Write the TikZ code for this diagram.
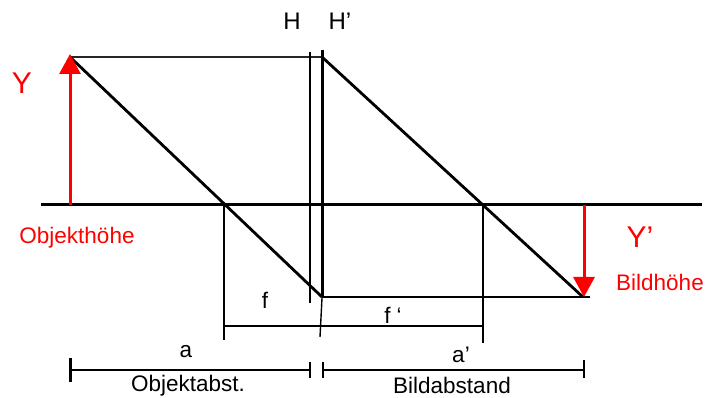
\documentclass[tikz,border=0pt]{standalone}
\usepackage{fontspec}
\setmainfont{Liberation Sans}
\usetikzlibrary{arrows.meta}
\begin{document}
\begin{tikzpicture}[x=1pt,y=-1pt,
  lbl/.style={font=\fontsize{22.5}{26}\selectfont, inner sep=0pt, text=black},
  redlbl/.style={lbl, text=red},
  biglbl/.style={font=\fontsize{30}{34}\selectfont, inner sep=0pt, text=red},
  axisline/.style={line width=3pt, black},
  ray/.style={line width=2.8pt, black},
  thinline/.style={line width=1.4pt, black},
  midline/.style={line width=1.8pt, black!85},
  redarrow/.style={line width=3pt, red, -{Triangle[length=20pt,width=21pt]}},
  tickthick/.style={line width=3pt, black},
]
\useasboundingbox (0,0) rectangle (705,398);
% coordinates
\coordinate (axL) at (41,205);
\coordinate (axR) at (702,205);
\coordinate (objB) at (70,205);
\coordinate (objT) at (70,54);
\coordinate (topL) at (70,57);
\coordinate (topR) at (322,57);
\coordinate (HpT) at (322,50);
\coordinate (HpB) at (322,297);
\coordinate (HT) at (310,52);
\coordinate (HB) at (310,303);
\coordinate (imgE) at (583,297);
\coordinate (botR) at (590,297);
\coordinate (imgB) at (584,205);
\coordinate (imgT) at (584,297);
\coordinate (FT) at (224,205);
\coordinate (FB) at (224,340);
\coordinate (FpT) at (483,205);
\coordinate (FpB) at (483,343);
\coordinate (fL) at (224,326);
\coordinate (fR) at (483,326);
\coordinate (slT) at (322,298);
\coordinate (slB) at (320,337);
\coordinate (dL) at (70,370);
\coordinate (dM1) at (310,370);
\coordinate (dM2) at (323,370);
\coordinate (dR) at (584,370);
\coordinate (tL1) at (70,358);
\coordinate (tL2) at (70,382);
\coordinate (tM1a) at (310,362);
\coordinate (tM1b) at (310,378);
\coordinate (tM2a) at (323,362);
\coordinate (tM2b) at (323,378);
\coordinate (tRa) at (584,360);
\coordinate (tRb) at (584,378);

% lines
\draw[axisline] (axL) -- (axR);
\draw[midline] (topL) -- (topR);
\draw[thinline] (HT) -- (HB);
\draw[line width=3pt] (HpT) -- (HpB);
\draw[ray] (topL) -- (HpB);
\draw[ray] (topR) -- (imgE);
\draw[thinline] (HpB) -- (botR);
\draw[thinline] (FT) -- (FB);
\draw[thinline] (FpT) -- (FpB);
\draw[thinline] (fL) -- (fR);
\draw[thinline] (slT) -- (slB);
\draw[redarrow] (objB) -- (objT);
\draw[redarrow] (imgB) -- (imgT);

% dimension lines
\draw[thinline] (dL) -- (dM1);
\draw[thinline] (dM2) -- (dR);
\draw[tickthick] (tL1) -- (tL2);
\draw[thinline] (tM1a) -- (tM1b);
\draw[thinline] (tM2a) -- (tM2b);
\draw[thinline] (tRa) -- (tRb);

% labels
\node[biglbl] (Y) at (22,83) {Y};
\node[redlbl] (objh) at (77,238) {Objekthöhe};
\node[biglbl] (Yp) at (640,237) {Y’};
\node[redlbl] (bildh) at (660,282) {Bildhöhe};
\node[lbl, font=\fontsize{24}{28}\selectfont] (H) at (292,21) {H};
\node[lbl, font=\fontsize{24}{28}\selectfont] (Hp) at (340,21) {H’};
\node[lbl] (f) at (265,300) {f};
\node[lbl] (fp) at (393,315) {f ‘};
\node[lbl] (a) at (186,352) {a};
\node[lbl] (objabst) at (188,386) {Objektabst.};
\node[lbl] (ap) at (461,355) {a’};
\node[lbl] (bildabst) at (452,385) {Bildabstand};
\end{tikzpicture}
\end{document}
